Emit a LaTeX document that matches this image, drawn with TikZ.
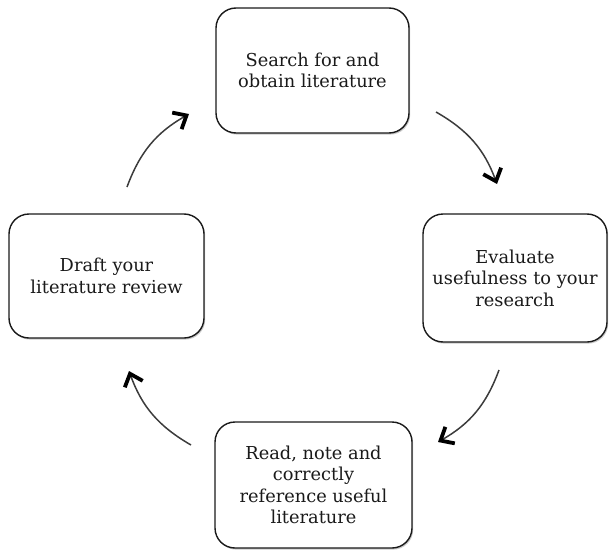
\documentclass[tikz,border=0pt]{standalone}
\usepackage{fontspec}
\setmainfont{DejaVu Serif}
\usetikzlibrary{arrows.meta,shadows}
\definecolor{ink}{HTML}{1A1A1A}
\tikzset{
  stage/.style={draw=ink, line width=1.4pt, rounded corners=20pt, fill=white,
    align=center, text=ink, inner sep=0pt,
    font=\fontsize{17.8}{21.5}\selectfont,
    drop shadow={shadow xshift=1.2pt, shadow yshift=-1.6pt, opacity=0.35, fill=black!60}},
  flow/.style={draw=ink!85, line width=1.5pt,
    -{Straight Barb[length=11pt, width=19pt, line width=3.8pt, color=black]}}
}
\begin{document}
\begin{tikzpicture}[x=1pt,y=1pt]
  \useasboundingbox (0,0) rectangle (609,550);
  % the four stages of the review cycle
  \node[stage, minimum width=193pt, minimum height=125pt] (search) at (312.5,479.5)
    {Search for and\\obtain literature};
  \node[stage, minimum width=184pt, minimum height=128pt] (evaluate) at (515,272)
    {Evaluate\\usefulness to your\\research};
  \node[stage, minimum width=197pt, minimum height=126pt] (read) at (313.5,65)
    {Read, note and\\correctly\\reference useful\\literature};
  \node[stage, minimum width=195pt, minimum height=124pt] (draft) at (106.5,274)
    {Draft your\\literature review};
  % arrow end points between the stages
  \coordinate (a1) at (436,438);
  \coordinate (b1) at (497,366);
  \coordinate (a2) at (499,180);
  \coordinate (b2) at (438,108);
  \coordinate (a3) at (191,105);
  \coordinate (b3) at (129,179);
  \coordinate (a4) at (127,363);
  \coordinate (b4) at (189,436);
  \draw[flow] (a1) to[bend left=20] (b1);
  \draw[flow] (a2) to[bend left=20] (b2);
  \draw[flow] (a3) to[bend left=20] (b3);
  \draw[flow] (a4) to[bend left=20] (b4);
\end{tikzpicture}
\end{document}
